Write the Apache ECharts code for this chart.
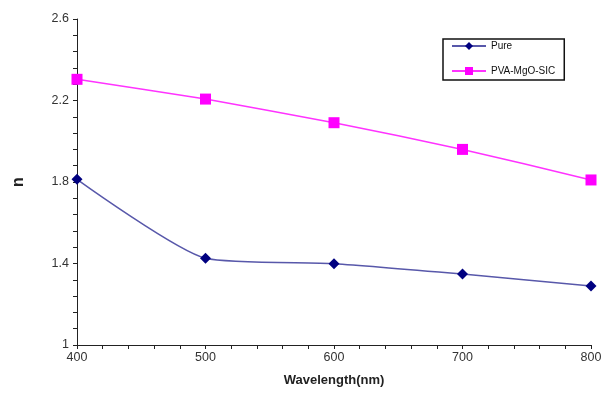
<!DOCTYPE html>
<html><head><meta charset="utf-8">
<script src="https://cdn.jsdelivr.net/npm/echarts@6/dist/echarts.min.js"></script>
<style>html,body{margin:0;padding:0;background:#fff}#c{width:611px;height:403px}</style>
</head><body><div id="c"></div>
<script>
const wavelengths = [400, 500, 600, 700, 800];
const pureValues = [1.813, 1.426, 1.399, 1.348, 1.29];
const pvaValues = [2.304, 2.207, 2.091, 1.960, 1.81];
const seriesNames = ['Pure', 'PVA-MgO-SIC'];

const chart = echarts.init(document.getElementById('c'));
const axisText = {color: '#333', fontFamily: 'Liberation Sans, Arial', fontSize: 12.5};
chart.setOption({
  animation: false,
  backgroundColor: '#fff',
  grid: {left: 77, right: 20, top: 19, bottom: 58},
  legend: {
    orient: 'vertical', left: 443, top: 39,
    borderColor: '#111', borderWidth: 1.5, padding: [2, 9, 4, 8], itemGap: 15,
    itemWidth: 34, itemHeight: 10,
    textStyle: {fontFamily: 'Liberation Sans, Arial', fontSize: 10, color: '#111'},
    data: seriesNames
  },
  xAxis: {
    type: 'value', min: 400, max: 800, interval: 100,
    name: 'Wavelength(nm)', nameLocation: 'middle', nameGap: 29,
    nameTextStyle: {fontFamily: 'Liberation Sans, Arial', fontSize: 13, fontWeight: 'bold', color: '#222'},
    axisLine: {lineStyle: {color: '#222', width: 1}},
    axisTick: {show: true, length: 4, lineStyle: {color: '#222'}},
    minorTick: {show: true, splitNumber: 5, length: 4, lineStyle: {color: '#222'}},
    splitLine: {show: false},
    axisLabel: Object.assign({margin: 6}, axisText)
  },
  yAxis: {
    type: 'value', min: 1, max: 2.6, interval: 0.4,
    name: 'n', nameLocation: 'middle', nameGap: 50, nameRotate: 90,
    nameTextStyle: {fontFamily: 'Liberation Sans, Arial', fontSize: 16, fontWeight: 'bold', color: '#222'},
    axisLine: {show: true, lineStyle: {color: '#222', width: 1}},
    axisTick: {show: true, length: 4, lineStyle: {color: '#222'}},
    minorTick: {show: true, splitNumber: 5, length: 4, lineStyle: {color: '#222'}},
    splitLine: {show: false},
    axisLabel: Object.assign({margin: 8, formatter: v => String(Math.round(v * 10) / 10)}, axisText)
  },
  series: [
    {
      name: seriesNames[0], type: 'line', smooth: 0.2,
      data: wavelengths.map((w, i) => [w, pureValues[i]]),
      symbol: 'diamond', symbolSize: 11,
      lineStyle: {color: '#5858aa', width: 1.5},
      itemStyle: {color: '#000080'}
    },
    {
      name: seriesNames[1], type: 'line', smooth: 0.2,
      data: wavelengths.map((w, i) => [w, pvaValues[i]]),
      symbol: 'rect', symbolSize: 11,
      lineStyle: {color: '#ff33ff', width: 1.5},
      itemStyle: {color: '#ff00ff'}
    }
  ]
});
</script></body></html>
